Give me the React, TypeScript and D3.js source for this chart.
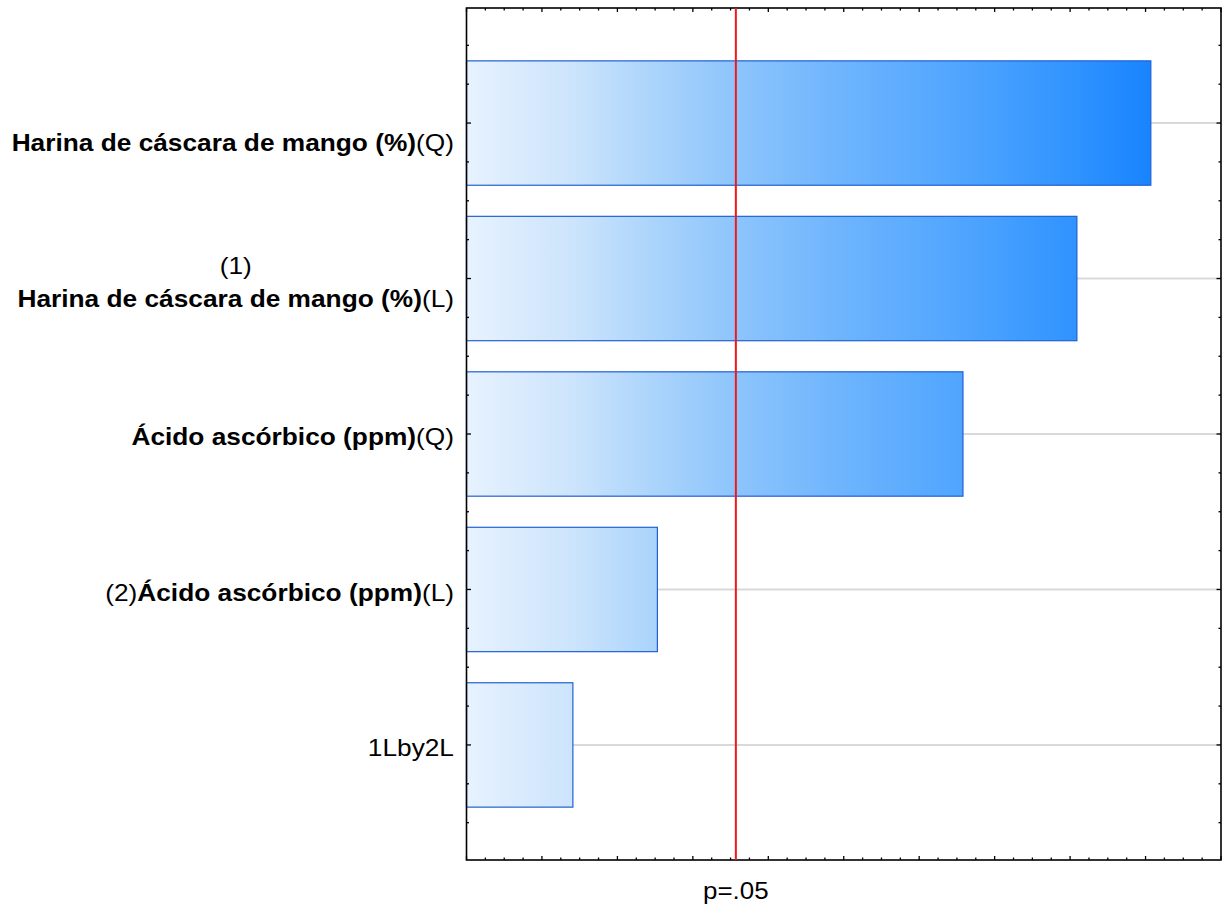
import React, { useEffect, useRef } from "react";
import * as d3 from "d3";

// ---- data ----
const factorKeys = ["HQ", "HL", "AQ", "AL", "INT"];
// label lines: each line is a list of [text, bold] segments
const factorLabels: [string, boolean][][][] = [
  [[], [["Harina de cáscara de mango (%)", true], ["(Q)", false]]],
  [[["(1)", false]], [["Harina de cáscara de mango (%)", true], ["(L)", false]]],
  [[["Ácido ascórbico (ppm)", true], ["(Q)", false]]],
  [[["(2)", false], ["Ácido ascórbico (ppm)", true], ["(L)", false]]],
  [[["1Lby2L", false]]],
];
const effects = [9.07, 8.09, 6.58, 2.53, 1.41];
const pCritical = 3.57;
const pLabel = "p=.05";
const xDomain = [0, 10];

const W = 1225;
const H = 905;

export default function App() {
  const ref = useRef<SVGSVGElement>(null);

  useEffect(() => {
    const svg = d3.select(ref.current!);
    svg.selectAll("*").remove();

    const left = 466.5, right = 1221, top = 8, bottom = 860;
    const x = d3.scaleLinear().domain(xDomain).range([left, right]);
    const y = d3
      .scaleBand<string>()
      .domain(factorKeys)
      .range([top, bottom])
      .paddingInner(0.2)
      .paddingOuter(0.34);

    const defs = svg.append("defs");
    const grad = defs
      .append("linearGradient")
      .attr("id", "barGrad")
      .attr("gradientUnits", "userSpaceOnUse")
      .attr("x1", x(0))
      .attr("x2", x(effects[0]))
      .attr("y1", 0)
      .attr("y2", 0);
    [
      [0, "#e7f2fe"],
      [0.156, "#cce4fc"],
      [0.28, "#a9d3fb"],
      [0.39, "#8ec5fc"],
      [0.55, "#6db4fd"],
      [0.726, "#4fa5fe"],
      [0.89, "#2f93ff"],
      [1, "#1884ff"],
    ].forEach(([o, c]) => grad.append("stop").attr("offset", o as number).attr("stop-color", c as string));

    const g = svg.append("g");

    // grid lines at band centres
    g.selectAll("line.grid")
      .data(factorKeys)
      .join("line")
      .attr("x1", left)
      .attr("x2", right)
      .attr("y1", (d) => y(d)! + y.bandwidth() / 2)
      .attr("y2", (d) => y(d)! + y.bandwidth() / 2)
      .attr("stroke", "#d9d9d9")
      .attr("stroke-width", 2);

    // bars
    g.selectAll("rect.bar")
      .data(effects)
      .join("rect")
      .attr("x", x(0))
      .attr("y", (_, i) => y(factorKeys[i])!)
      .attr("width", (d) => x(d) - x(0))
      .attr("height", y.bandwidth())
      .attr("fill", "url(#barGrad)")
      .attr("stroke", "#2160d4")
      .attr("stroke-width", 1.2);

    // ticks
    const tickG = svg.append("g").attr("stroke", "#000").attr("stroke-width", 1.3);
    const xMinor = d3.range(xDomain[0], xDomain[1] + 0.001, 0.25);
    xMinor.forEach((v) => {
      const major = Math.abs(v - Math.round(v)) < 1e-6;
      const len = major ? 4 : 2.5;
      const px = x(v);
      tickG.append("line").attr("x1", px).attr("x2", px).attr("y1", bottom).attr("y2", bottom - len);
      tickG.append("line").attr("x1", px).attr("x2", px).attr("y1", top).attr("y2", top + len);
    });
    const q = y.step() / 4;
    const c0 = y(factorKeys[0])! + y.bandwidth() / 2;
    for (let k = -Math.floor((c0 - top) / q); c0 + k * q <= bottom; k++) {
      const py = c0 + k * q;
      const major = k % 4 === 0;
      const len = major ? 4.5 : 2.5;
      tickG.append("line").attr("x1", left).attr("x2", left + len).attr("y1", py).attr("y2", py);
      tickG.append("line").attr("x1", right).attr("x2", right - len).attr("y1", py).attr("y2", py);
    }

    // frame
    svg
      .append("rect")
      .attr("x", left)
      .attr("y", top)
      .attr("width", right - left)
      .attr("height", bottom - top)
      .attr("fill", "none")
      .attr("stroke", "#000")
      .attr("stroke-width", 1.6);

    // critical line
    svg
      .append("line")
      .attr("x1", x(pCritical))
      .attr("x2", x(pCritical))
      .attr("y1", top)
      .attr("y2", bottom)
      .attr("stroke", "#f01818")
      .attr("stroke-width", 2);

    const font = "'Liberation Sans', Arial, sans-serif";
    const fs = 24;
    const sx = 1.095;

    svg
      .append("text")
      .attr("transform", `translate(${x(pCritical)},899) scale(1.08,1)`)
      .attr("text-anchor", "middle")
      .attr("font-family", font)
      .attr("font-size", fs)
      .attr("fill", "#000")
      .text(pLabel);

    // category labels
    const labelRight = 454;
    const lineH = 33;
    factorLabels.forEach((lines, i) => {
      const cy = y(factorKeys[i])! + y.bandwidth() / 2;
      const n = lines.length;
      const grp = svg
        .append("g")
        .attr("transform", `translate(${labelRight},0) scale(${sx},1)`);
      const texts: any[] = [];
      lines.forEach((segs, li) => {
        const base = cy + 11.5 + (li - (n - 1) / 2) * lineH;
        const t = grp
          .append("text")
          .attr("y", base)
          .attr("font-family", font)
          .attr("font-size", fs)
          .attr("fill", "#000");
        segs.forEach(([s, b]) => {
          t.append("tspan").attr("font-weight", b ? "bold" : "normal").text(s);
        });
        texts.push(t);
      });
      const widths = texts.map((t) => (t.node() as SVGTextElement).getComputedTextLength());
      const maxW = Math.max(...widths);
      texts.forEach((t) => {
        t.attr("text-anchor", "middle").attr("x", -maxW / 2);
      });
    });
  }, []);

  return (
    <svg
      ref={ref}
      width={W}
      height={H}
      style={{ position: "absolute", left: 0, top: 0, background: "#fff" }}
    />
  );
}
